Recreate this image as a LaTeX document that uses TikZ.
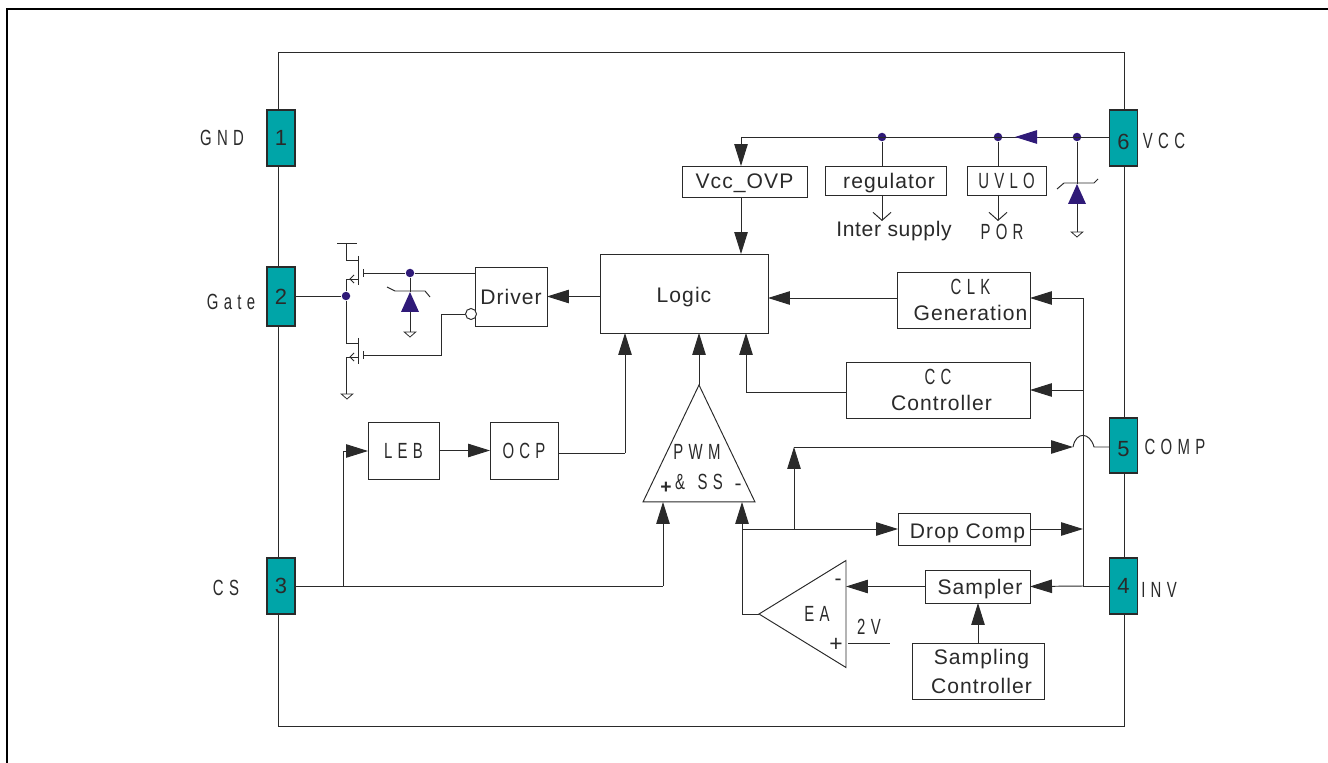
\documentclass[tikz,border=0pt]{standalone}
\usepackage{fontspec}
\usepackage{xcolor}
\setmainfont{Liberation Sans}
\newfontfamily\plainfont[LetterSpace=3]{Liberation Sans}
\newfontfamily\blockfont[LetterSpace=5]{Liberation Sans}
\newfontfamily\thinfont[FakeStretch=0.68,LetterSpace=24]{Liberation Sans}
\usetikzlibrary{positioning}
\usetikzlibrary{calc,arrows.meta,shapes.geometric}
\definecolor{pincol}{HTML}{00A5A8}
\definecolor{dotcol}{HTML}{2F1A78}
\definecolor{inkcol}{HTML}{2A2A2A}
\tikzset{
  wire/.style={draw=inkcol,line width=0.55pt},
  arr/.style={wire,-{Triangle[length=0.44cm,width=0.27cm,fill=inkcol]}},
  openarr/.style={wire,-{Straight Barb[length=0.16cm,width=0.36cm]}},
  block/.style={draw=inkcol,line width=0.55pt,fill=white,inner sep=0pt,outer sep=0pt,text=inkcol,align=center,text depth=0pt,font=\blockfont\fontsize{12}{14.7}\selectfont},
  lowtext/.style={text height=10.5pt},
  pin/.style={draw=inkcol,line width=0.8pt,fill=pincol,inner sep=0pt,outer sep=0pt,minimum width=0.56cm,text=inkcol,font=\fontsize{12.5}{14}\selectfont},
  lowpin/.style={text height=13pt,text depth=0pt},
  tag/.style={inner sep=0pt,text=inkcol,font=\thinfont\fontsize{12.5}{14}\selectfont},
  word/.style={inner sep=0pt,text=inkcol,font=\plainfont\fontsize{12}{14}\selectfont},
  junc/.style={circle,fill=dotcol,inner sep=0pt,minimum size=0.17cm},
  amp/.style={draw=inkcol,line width=0.55pt,isosceles triangle,isosceles triangle stretches,inner sep=0pt,outer sep=0pt,anchor=apex},
  zen/.style={fill=dotcol,isosceles triangle,isosceles triangle stretches,inner sep=0pt,outer sep=0pt,minimum height=0.4cm,minimum width=0.36cm,shape border rotate=90,anchor=apex},
  gnd/.style={draw=inkcol,line width=0.45pt,fill=white,isosceles triangle,isosceles triangle stretches,inner sep=0pt,outer sep=0pt,minimum height=0.1cm,minimum width=0.23cm,shape border rotate=-90,anchor=lower side},
}
\begin{document}
\begin{tikzpicture}[x=0.02cm,y=-0.02cm]
  \useasboundingbox (0,0) rectangle (1328,763);
  \coordinate (fA) at (7,763);
  \coordinate (fB) at (7,9);
  \coordinate (fC) at (1328,9);
  \draw[black,line width=1.2pt] (fA) -- (fB) -- (fC);

  \node[minimum width=16.94cm,minimum height=13.5cm,draw=inkcol,line width=0.55pt,inner sep=0pt] (chip) at (701.5,389.5) {};

  % pins
  \node[pin,minimum height=1.12cm] (p1) at (281,138) {1};
  \node[pin,minimum height=1.18cm] (p2) at (281,296.5) {2};
  \node[pin,minimum height=1.12cm] (p3) at (281,586) {3};
  \node[pin,minimum height=1.12cm] (p4) at (1123.5,586) {4};
  \node[pin,lowpin,minimum height=1.1cm] (p5) at (1123.5,445.5) {5};
  \node[pin,lowpin,minimum height=1.12cm] (p6) at (1123.5,138) {6};

  \node[tag] (lgnd) at (222,138) {GND};
  \node[tag] (lgate) at (231,302) {Gate};
  \node[tag] (lcs) at (226,588) {CS};
  \node[tag] (lvcc) at (1164,141) {VCC};
  \node[tag] (lcomp) at (1175,447) {COMP};
  \node[tag] (linv) at (1159,590) {INV};

  % blocks
  \node[block,minimum width=2.5cm,minimum height=0.62cm] (ovp) at (744.5,181.5) {Vcc\_OVP};
  \node[block,minimum width=2.42cm,minimum height=0.58cm] (reg) at (885.5,180.5) {\hspace*{0.14cm}regulator};
  \node[block,minimum width=1.58cm,minimum height=0.58cm,font=\thinfont\fontsize{12.5}{14}\selectfont] (uvlo) at (1006.5,180.5) {UVLO};
  \node[block,minimum width=1.44cm,minimum height=1.18cm] (driver) at (511,296.5) {Driver};
  \node[block,lowtext,minimum width=3.36cm,minimum height=1.58cm] (logic) at (684,293.5) {Logic};
  \node[block,minimum width=2.66cm,minimum height=1.12cm] (clk) at (963.5,300) {\hspace*{0.28cm}{\thinfont\fontsize{12.5}{14.7}\selectfont CLK}\\\hspace*{0.28cm}Generation};
  \node[block,minimum width=3.68cm,minimum height=1.12cm] (cc) at (938,390) {{\thinfont\fontsize{12.5}{14.7}\selectfont CC}\\\hspace*{0.14cm}Controller};
  \node[block,minimum width=1.42cm,minimum height=1.14cm,font=\thinfont\fontsize{12.5}{14}\selectfont] (leb) at (403.5,450.5) {LEB};
  \node[block,minimum width=1.36cm,minimum height=1.14cm,font=\thinfont\fontsize{12.5}{14}\selectfont] (ocp) at (524,450.5) {OCP};
  \node[block,lowtext,minimum width=2.64cm,minimum height=0.64cm] (drop) at (964,529) {\hspace*{0.14cm}Drop Comp};
  \node[block,minimum width=2.1cm,minimum height=0.66cm] (samp) at (977.5,586.5) {\hspace*{0.1cm}Sampler};
  \node[block,minimum width=2.64cm,minimum height=1.12cm,font=\blockfont\fontsize{12}{16.4}\selectfont] (sctl) at (978,671) {\hspace*{0.14cm}Sampling\\\hspace*{0.14cm}Controller};

  \node[amp,minimum height=2.34cm,minimum width=2.24cm,shape border rotate=90] (pwm) at (699,385) {};
  \node[amp,minimum height=1.74cm,minimum width=2.14cm,shape border rotate=180] (ea) at (759,614) {};

  \node[tag] (lpwm) at (697,452) {PWM};
  \node[tag] (lss) at (699,482) {\&\hspace{0.06cm} SS};
  \node[word,font=\bfseries\fontsize{11}{13}\selectfont] (lpp) at (666,488) {+};
  \node[word] (lpm) at (738,487) {-};
  \node[tag] (lea) at (817,614) {EA};
  \node[word] (lem) at (838,582) {-};
  \node[word,font=\fontsize{13}{14}\selectfont] (lep) at (836,645) {+};
  \node[tag] (l2v) at (869,627) {2V};

  \node[word] (lint) at (894,231) {Inter supply};
  \node[tag] (lpor) at (1002,232) {POR};

  % top rail
  \node[junc] (d1) at (882,137) {};
  \node[junc] (d2) at (998,137) {};
  \node[junc] (d3) at (1077,137) {};
  \coordinate (railL) at (741,137);
  \coordinate (blueA) at (1037,137);
  \coordinate (blueB) at (1015,137);
  \draw[wire] (p6.west |- d3) -- (railL);
  \draw[arr] (railL) -- (railL |- ovp.north);
  \draw[wire,-{Triangle[length=0.44cm,width=0.27cm,fill=dotcol]},draw=dotcol] (blueA) -- (blueB);
  \draw[wire] (d1) -- (d1 |- reg.north);
  \draw[wire] (d2) -- (d2 |- uvlo.north);
  \draw[openarr] (d1 |- reg.south) -- (882,221);
  \draw[openarr] (d2 |- uvlo.south) -- (998,221);
  \draw[arr] (railL |- ovp.south) -- (railL |- logic.north);

  % zener at VCC
  \node[zen] (z1) at (1077,184) {};
  \node[gnd] (g1) at (1077,232) {};
  \draw[wire] (d3) -- (z1.apex);
  \draw[wire] (z1.lower side) -- (g1.lower side);
  \draw[wire] (1057,189) -- (1064,183) -- (1094,183) -- (1098,179);

  % logic inputs
  \coordinate (jclk) at (1083,298);
  \coordinate (jcc) at (1083,390);
  \coordinate (jinv) at (1083,586);
  \coordinate (jdrop) at (1083,529);
  \draw[wire] (jclk) -- (jinv);
  \draw[arr] (jclk) -- (jclk -| clk.east);
  \draw[arr] (jcc) -- (jcc -| cc.east);
  \draw[arr] (jclk -| clk.west) -- (jclk -| logic.east);
  \coordinate (ccup) at (746,392);
  \draw[wire] (ccup -| cc.west) -- (ccup);
  \draw[arr] (ccup) -- (ccup |- logic.south);
  \draw[arr] (driver.east -| logic.west) -- (driver.east);
  \draw[arr] (pwm.apex) -- (pwm.apex |- logic.south);

  % pin 4 and the sampler
  \draw[wire] (p4.west) -- (jinv);
  \draw[arr] (jinv) -- (samp.east);
  \draw[arr] (samp.west) -- (ea.lower side |- samp.west);
  \draw[arr] (sctl.north) -- (sctl.north |- samp.south);
  \coordinate (v2a) at (848,643);
  \coordinate (v2b) at (890,643);
  \draw[wire] (v2a) -- (v2b);

  % error amp output
  \coordinate (eaL) at (742,614);
  \coordinate (jm) at (742,529);
  \coordinate (ju) at (794,529);
  \coordinate (jt) at (794,447);
  \coordinate (jtip) at (1073,447);
  \coordinate (jr) at (1094,447);
  \draw[wire] (ea.apex) -- (eaL) -- (jm);
  \draw[arr] (jm) -- (jm |- pwm.lower side);
  \draw[arr] (jm) -- (jm -| drop.west);
  \draw[arr] (ju) -- (jt);
  \draw[arr] (jt) -- (jtip);
  \draw[arr] (jm -| drop.east) -- (jdrop);
  \draw[wire] (p5.west |- jr) -- (jr) .. controls (1090,432) and (1076,431) .. (jtip);

  % current sense
  \coordinate (jcs) at (343,586);
  \coordinate (cstop) at (343,451);
  \coordinate (csr) at (663,586);
  \draw[wire] (p3.east) -- (csr);
  \draw[arr] (csr) -- (csr |- pwm.lower side);
  \draw[wire] (jcs) -- (cstop);
  \draw[arr] (cstop) -- (cstop -| leb.west);
  \draw[arr] (leb.east) -- (ocp.west);
  \coordinate (ocpr) at (625,453);
  \draw[wire] (ocpr -| ocp.east) -- (ocpr);
  \draw[arr] (ocpr) -- (ocpr |- logic.south);

  % output stage
  \node[junc] (d4) at (346,296) {};
  \node[junc] (d5) at (410,273) {};
  \node[circle,draw=inkcol,line width=0.55pt,fill=white,inner sep=0pt,minimum size=0.22cm] (inv) at (471,314) {};
  \node[zen] (z2) at (410,292) {};
  \node[gnd] (g2) at (410,332) {};
  \node[gnd] (g3) at (347,394) {};
  \draw[wire] (p2.east |- d4) -- (d4);
  \draw[wire] (337,243) -- (357,243);
  \draw[wire] (346,243) -- (346,260) -- (358,260);
  \draw[wire] (358,256) -- (358,285);
  \draw[wire] (363,269) -- (363,277);
  \draw[wire] (363,273) -- (d5) -- (d5 -| driver.west);
  \draw[wire] (358,279) -- (346,279) -- (d4) -- (346,343) -- (358,343);
  \draw[wire] (354,275) -- (350,279) -- (354,283);
  \draw[wire] (358,338) -- (358,364);
  \draw[wire] (363,351) -- (363,359);
  \draw[wire] (363,355) -- (441,355) -- (441,314) -- (inv.west);
  \draw[wire] (358,357) -- (346,357) -- (346,394);
  \draw[wire] (354,353) -- (350,357) -- (354,361);
  \draw[wire] (d5) -- (z2.apex);
  \draw[wire] (z2.lower side) -- (g2.lower side);
  \draw[wire] (387,287) -- (395,291) -- (425,291) -- (430,297);
\end{tikzpicture}
\end{document}
